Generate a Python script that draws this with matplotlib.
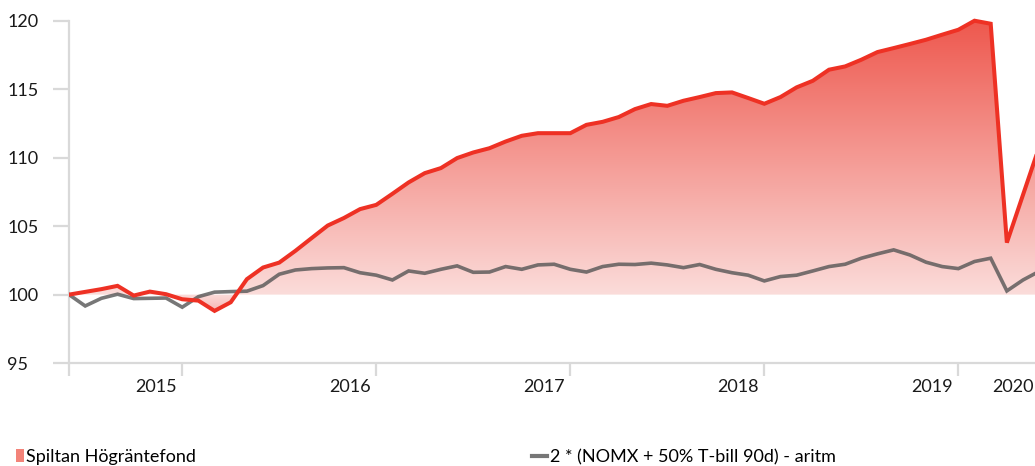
import matplotlib
matplotlib.use("Agg")
import matplotlib.pyplot as plt
import numpy as np
from matplotlib.path import Path
from matplotlib.lines import Line2D
from matplotlib.patches import Patch

plt.rcParams['font.family'] = ['Lato', 'DejaVu Sans']

# monthly index values, start = 100
fund = [100.0, 100.2, 100.4, 100.64, 99.93, 100.22, 100.03, 99.66, 99.56, 98.81,
        99.44, 101.13, 101.98, 102.34, 103.2, 104.13, 105.05, 105.6, 106.25, 106.56,
        107.37, 108.2, 108.88, 109.25, 109.98, 110.39, 110.7, 111.19, 111.61, 111.8,
        111.8, 111.8, 112.41, 112.63, 112.98, 113.56, 113.93, 113.8, 114.17, 114.44,
        114.73, 114.78, 114.37, 113.95, 114.44, 115.15, 115.63, 116.44, 116.68, 117.17,
        117.73, 118.02, 118.32, 118.63, 119.0, 119.36, 120.02, 119.8, 103.8, 107.3,
        110.8]
bench = [100.0, 99.17, 99.73, 100.03, 99.71, 99.73, 99.75, 99.08, 99.85, 100.18,
         100.22, 100.25, 100.66, 101.49, 101.8, 101.9, 101.95, 101.97, 101.6, 101.42,
         101.07, 101.73, 101.56, 101.85, 102.1, 101.63, 101.65, 102.05, 101.85, 102.17,
         102.22, 101.85, 101.65, 102.05, 102.22, 102.2, 102.3, 102.17, 101.97, 102.2,
         101.85, 101.6, 101.42, 101.0, 101.32, 101.42, 101.73, 102.05, 102.22, 102.66,
         102.98, 103.27, 102.9, 102.37, 102.05, 101.9, 102.42, 102.66, 100.27, 101.07,
         101.7]
year_ticks = [0, 7, 19, 31, 43, 55]
year_label_pos = [5.4, 17.4, 29.4, 41.4, 53.4, 58.4]
year_labels = ["2015", "2016", "2017", "2018", "2019", "2020"]
y_ticks = [95, 100, 105, 110, 115, 120]

fund_name = "Spiltan Högräntefond"
bench_name = "2 * (NOMX + 50% T-bill 90d) - aritm"

months = np.arange(len(fund))
grid_col = "#d9d9d9"
red = "#ee3124"

fig = plt.figure(figsize=(10.35, 4.66), dpi=100)
ax = fig.add_axes([0.0667, 0.221, 0.9333, 0.7633])

# gradient fill between 100 and fund line
poly = ax.fill_between(months, 100, fund, color="none", lw=0)
clip = Path.make_compound_path(*poly.get_paths())
vals = np.linspace(94, 121, 600)
top = np.array([238, 88, 78]) / 255
bot = np.array([251, 220, 218]) / 255
t = np.where(vals >= 100, (vals - 100) / 20, np.clip((100 - vals) / 2.5, 0, 1) * 0.6)
t = np.clip(t, 0, 1)[:, None]
rgb = bot + (top - bot) * t
img = ax.imshow(rgb[:, None, :], extent=[0, 60, 94, 121], origin="lower",
                aspect="auto", zorder=1, interpolation="bilinear")
img.set_clip_path(clip, transform=ax.transData)

ax.plot(months, bench, color="#555555", alpha=0.8, lw=2.6, zorder=3,
        solid_joinstyle="miter")
ax.plot(months, fund, color=red, lw=2.9, zorder=4, solid_joinstyle="miter")

ax.set_xlim(0, 59.74)
ax.set_ylim(95, 121)

for s in ["top", "right"]:
    ax.spines[s].set_visible(False)
for s in ["left", "bottom"]:
    ax.spines[s].set_color(grid_col)
    ax.spines[s].set_linewidth(1.6)
ax.spines["left"].set_bounds(95, 120)

ax.set_yticks(y_ticks)
ax.set_yticklabels([str(v) for v in y_ticks])
ax.tick_params(axis="y", length=11.5, width=1.6, color=grid_col,
               labelcolor="#1a1a1a", labelsize=13, pad=33)
for lbl in ax.get_yticklabels():
    lbl.set_horizontalalignment("left")

ax.set_xticks(year_ticks)
ax.set_xticklabels([""] * len(year_ticks))
ax.set_xticks(year_label_pos, minor=True)
ax.set_xticklabels(year_labels, minor=True)
ax.tick_params(axis="x", which="major", length=9.4, width=1.6, color=grid_col)
ax.tick_params(axis="x", which="minor", length=0, pad=11.5,
               labelcolor="#1a1a1a", labelsize=13)

fig.legend(handles=[Patch(facecolor="#f38379", edgecolor="none", label=fund_name)],
           loc="lower left", bbox_to_anchor=(16 / 1035, 0.002), frameon=False,
           fontsize=13, handlelength=0.45, handleheight=0.75,
           handletextpad=0.1, borderpad=0, borderaxespad=0)
fig.legend(handles=[Line2D([], [], color="#777777", lw=3, label=bench_name)],
           loc="lower left", bbox_to_anchor=(532 / 1035, 0.002), frameon=False,
           fontsize=13, handlelength=0.85, handletextpad=0.15,
           borderpad=0, borderaxespad=0)

fig.savefig("out.png", dpi=100)
